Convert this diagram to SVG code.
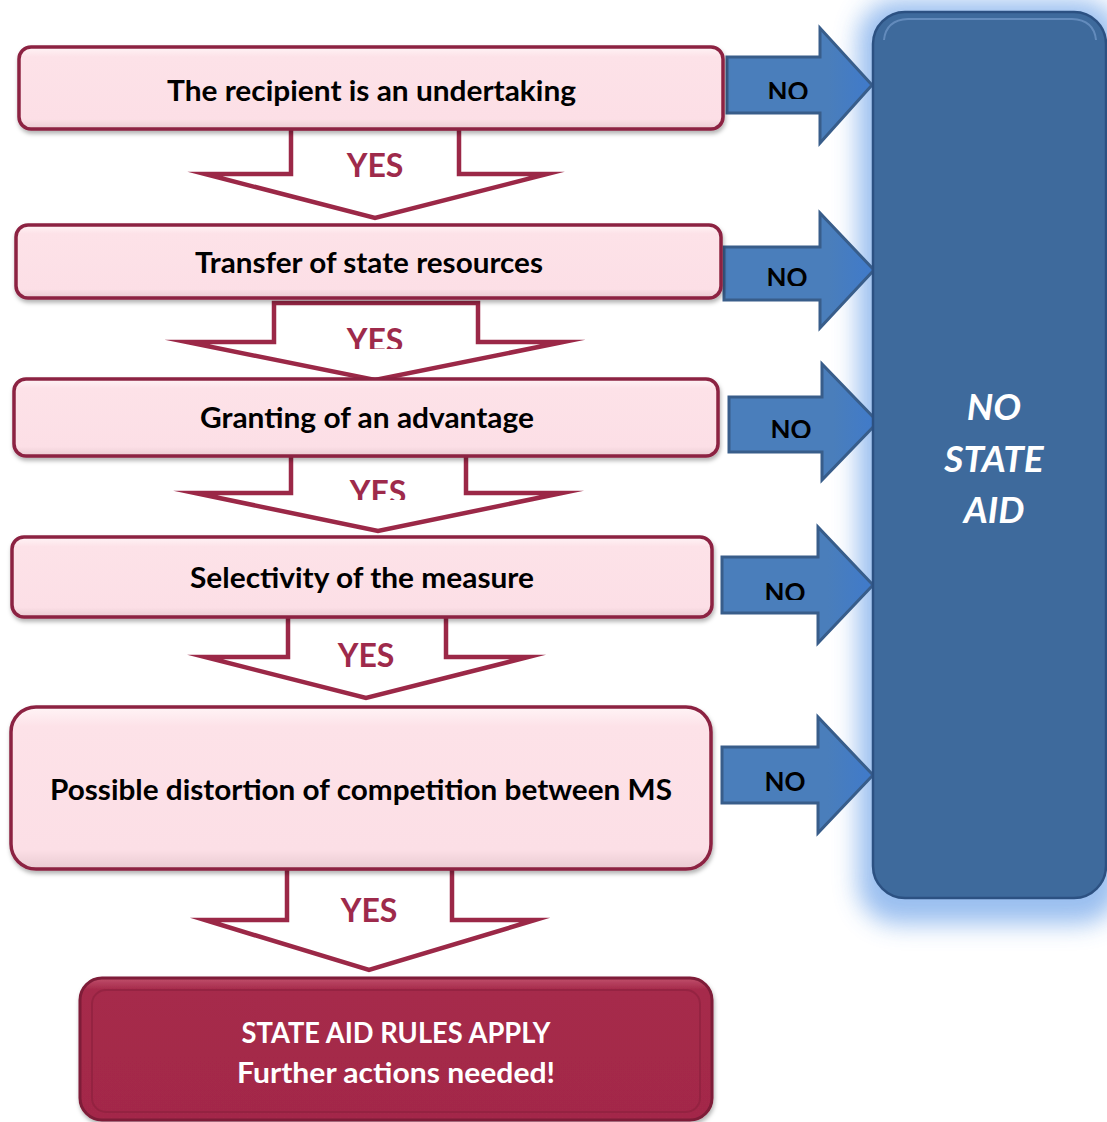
<svg xmlns="http://www.w3.org/2000/svg" width="1107" height="1122" viewBox="0 0 1107 1122">
<defs>
<style>
.box{fill:url(#pink);stroke:#8C2342;stroke-width:3.5}
.lbl{font-family:Lato,"Open Sans",sans-serif;font-weight:bold;font-size:28px;fill:#000;text-anchor:middle}
.yes{fill:#fff;stroke:#9B2847;stroke-width:4.5;stroke-linejoin:miter;stroke-miterlimit:20}
.yest{font-family:Lato,"Open Sans",sans-serif;font-weight:bold;font-size:32px;fill:#9E2A4B;text-anchor:middle}
.no{fill:url(#blueArr);stroke:#385D8A;stroke-width:3}
.not{font-family:Lato,"Open Sans",sans-serif;font-weight:bold;font-size:26px;fill:#000;text-anchor:middle}
.big{font-family:Lato,"Open Sans",sans-serif;font-weight:bold;font-style:italic;font-size:37px;fill:#fff;text-anchor:middle}
.red{font-family:Lato,"Open Sans",sans-serif;font-weight:bold;font-size:28px;fill:#fff;text-anchor:middle}
</style>
<linearGradient id="pink" x1="0" y1="0" x2="0" y2="1">
<stop offset="0" stop-color="#FFF4F6"/><stop offset="0.12" stop-color="#FDE2E8"/><stop offset="0.88" stop-color="#FCDFE6"/><stop offset="1" stop-color="#E9CBD2"/>
</linearGradient>
<linearGradient id="blueArr" x1="0" y1="0" x2="1" y2="0">
<stop offset="0" stop-color="#4A7EBB"/><stop offset="0.7" stop-color="#4A7EBB"/><stop offset="1" stop-color="#3F7ACB"/>
</linearGradient>
<linearGradient id="redg" x1="0" y1="0" x2="0" y2="1">
<stop offset="0" stop-color="#C0506C"/><stop offset="0.08" stop-color="#A62A4B"/><stop offset="1" stop-color="#A32849"/>
</linearGradient>
<filter id="shadow" x="-5%" y="-10%" width="110%" height="130%">
<feDropShadow dx="1" dy="3" stdDeviation="2" flood-color="#000" flood-opacity="0.3"/>
</filter>
<filter id="glow" x="-30%" y="-10%" width="160%" height="120%">
<feGaussianBlur stdDeviation="12"/>
</filter>
<clipPath id="c1"><rect x="740" y="60" width="80" height="39"/></clipPath>
<clipPath id="c2"><rect x="740" y="250" width="80" height="36"/></clipPath>
<clipPath id="c3"><rect x="740" y="400" width="80" height="38"/></clipPath>
<clipPath id="c4"><rect x="740" y="560" width="80" height="40"/></clipPath>
<clipPath id="y2"><rect x="300" y="310" width="160" height="39"/></clipPath>
<clipPath id="y3"><rect x="300" y="462" width="160" height="38"/></clipPath>
</defs>
<rect width="1107" height="1122" fill="#fff"/>

<g id="no-state-aid-glow">
<rect x="858" y="0" width="262" height="924" rx="40" fill="#8FB8EE" filter="url(#glow)" opacity="0.9"/>
</g>

<g id="connectors">
<path class="yes" d="M291,128 V174 H205 L375,218 L547,174 H459 V128 Z"/>
<text class="yest" x="375" y="177">YES</text>
<path class="yes" d="M274,303 V342 H187 L375,380 L563,342 H478 V303 Z"/>
<text class="yest" x="375" y="352" clip-path="url(#y2)">YES</text>
<path class="yes" d="M291,455 V493 H195 L378,531 L562,493 H466 V455 Z"/>
<text class="yest" x="378" y="504" clip-path="url(#y3)">YES</text>
<path class="yes" d="M288,616 V657 H205 L366,698 L528,657 H446 V616 Z"/>
<text class="yest" x="366" y="667">YES</text>
<path class="yes" d="M287,868 V920 H205 L369,970 L535,920 H452 V868 Z"/>
<text class="yest" x="369" y="922">YES</text>

<path class="no" d="M727,57 H820 V28 L872,85 L820,143 V113 H727 Z"/>
<text class="not" x="788" y="101" clip-path="url(#c1)">NO</text>
<path class="no" d="M724,247 H820 V213 L874,270 L820,328 V300 H724 Z"/>
<text class="not" x="787" y="287" clip-path="url(#c2)">NO</text>
<path class="no" d="M729,397 H822 V364 L878,422 L822,480 V452 H729 Z"/>
<text class="not" x="791" y="439" clip-path="url(#c3)">NO</text>
<path class="no" d="M722,557 H818 V527 L873,585 L818,643 V613 H722 Z"/>
<text class="not" x="785" y="602" clip-path="url(#c4)">NO</text>
<path class="no" d="M722,747 H818 V717 L873,775 L818,833 V803 H722 Z"/>
<text class="not" x="785" y="791">NO</text>
</g>

<g id="n1"><rect class="box" x="19" y="47" width="704" height="82" rx="12" filter="url(#shadow)"/>
<text class="lbl" x="371.5" y="101" textLength="409" lengthAdjust="spacingAndGlyphs">The recipient is an undertaking</text></g>
<g id="n2"><rect class="box" x="16" y="225" width="705" height="73" rx="12" filter="url(#shadow)"/>
<text class="lbl" x="369" y="273" textLength="348" lengthAdjust="spacingAndGlyphs">Transfer of state resources</text></g>
<g id="n3"><rect class="box" x="14" y="379" width="704" height="77" rx="12" filter="url(#shadow)"/>
<text class="lbl" x="367" y="428" textLength="334" lengthAdjust="spacingAndGlyphs">Granting of an advantage</text></g>
<g id="n4"><rect class="box" x="12" y="537" width="700" height="80" rx="12" filter="url(#shadow)"/>
<text class="lbl" x="362" y="588" textLength="344" lengthAdjust="spacingAndGlyphs">Selectivity of the measure</text></g>
<g id="n5"><rect class="box" x="11" y="707" width="700" height="162" rx="25" filter="url(#shadow)"/>
<text class="lbl" x="361" y="800" textLength="622" lengthAdjust="spacingAndGlyphs">Possible distortion of competition between MS</text></g>

<g id="no-state-aid">
<rect x="873" y="12" width="233" height="886" rx="32" fill="#3E6A9C" stroke="#2C5182" stroke-width="2.5"/>
<path d="M884,40 Q886,20 908,19 H1072 Q1094,20 1096,40" fill="none" stroke="#6D93C4" stroke-width="2" opacity="0.8"/>
<text class="big" x="994" y="420">NO</text>
<text class="big" x="994" y="472">STATE</text>
<text class="big" x="994" y="523">AID</text>
</g>

<g id="state-aid-rules">
<rect x="80" y="978" width="632" height="142" rx="22" fill="url(#redg)" stroke="#7E1D38" stroke-width="3" filter="url(#shadow)"/>
<rect x="92" y="990" width="608" height="122" rx="14" fill="none" stroke="#8A1F3C" stroke-width="2" opacity="0.6"/>
<text class="red" x="396" y="1043" textLength="309" lengthAdjust="spacingAndGlyphs">STATE AID RULES APPLY</text>
<text class="red" x="396" y="1083" textLength="318" lengthAdjust="spacingAndGlyphs">Further actions needed!</text>
</g>
</svg>
